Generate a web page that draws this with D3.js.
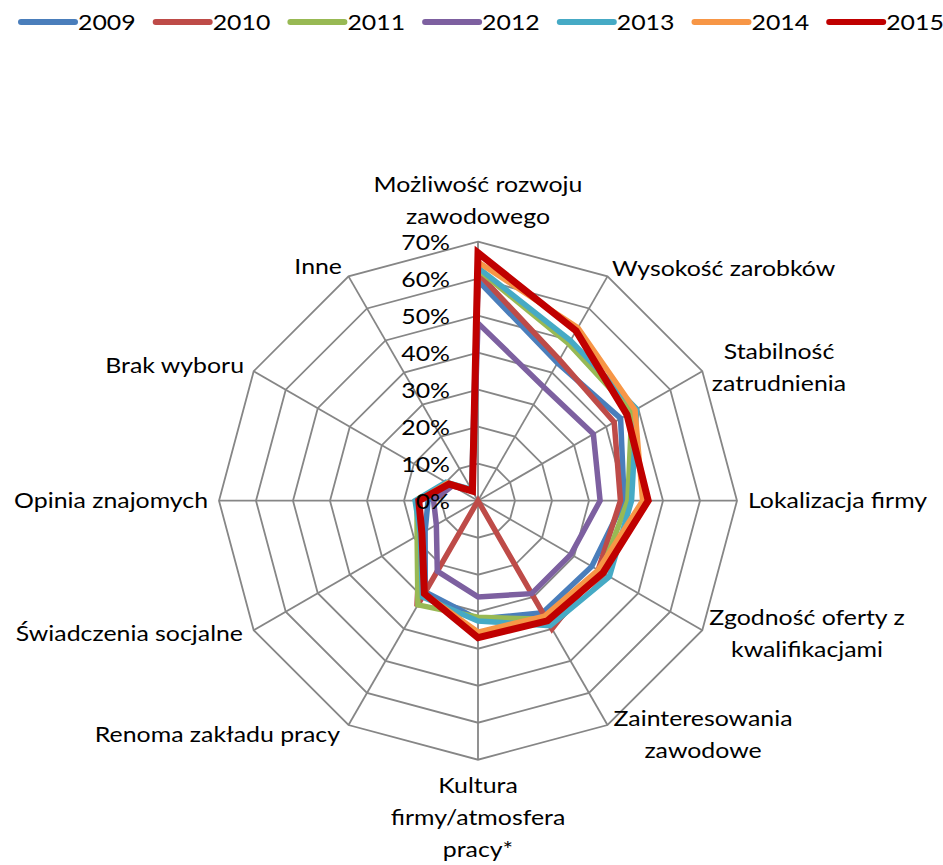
<!DOCTYPE html>
<html>
<head>
<meta charset="utf-8">
<script src="https://cdn.jsdelivr.net/npm/d3@7"></script>
<style>
  html, body { margin: 0; padding: 0; background: #fff; }
  svg { display: block; }
  text { font-family: Lato, "Open Sans", sans-serif; fill: #000; }
</style>
</head>
<body>
<svg id="chart" width="943" height="865"></svg>
<script>
// ---------------- data ----------------
const categories = [
  "Możliwość rozwoju zawodowego",
  "Wysokość zarobków",
  "Stabilność zatrudnienia",
  "Lokalizacja firmy",
  "Zgodność oferty z kwalifikacjami",
  "Zainteresowania zawodowe",
  "Kultura firmy/atmosfera pracy*",
  "Renoma zakładu pracy",
  "Świadczenia socjalne",
  "Opinia znajomych",
  "Brak wyboru",
  "Inne"
];
const years = ["2009", "2010", "2011", "2012", "2013", "2014", "2015"];
const s2009 = [59.5, 43, 44.5, 39.5, 35.5, 35, 32, 28.5, 16.5, 13.5, 9, 3];
const s2010 = [61.5, 44, 42.5, 38.5, 37.5, 40, 0, 33, 18, 16, 9, 3];
const s2011 = [62.5, 49, 48, 40.5, 38.5, 37, 31.5, 32.5, 19, 16.5, 9.5, 3];
const s2012 = [48, 35.5, 36, 33, 29, 29, 26, 22, 13, 12, 8, 3];
const s2013 = [63, 50, 49.5, 41.5, 41, 39, 32.5, 30, 18, 17, 10, 3.5];
const s2014 = [64.5, 54, 49, 44.5, 37.5, 36, 35.5, 29, 17.5, 16, 9.5, 3];
const s2015 = [67, 53, 46.5, 46, 39, 37.5, 37, 29, 17.5, 16, 9, 3];
const seriesValues = [s2009, s2010, s2011, s2012, s2013, s2014, s2015];
const tickValues = [0, 10, 20, 30, 40, 50, 60, 70];
const tickLabels = ["0%", "10%", "20%", "30%", "40%", "50%", "60%", "70%"];

// ---------------- styles / layout ----------------
const colors = ["#4A7EBB", "#BE4B48", "#98B954", "#7D60A0", "#46AAC5", "#F79646", "#C00000"];
const widths = [5.5, 5.5, 5.5, 5.5, 5.5, 5.5, 7];
const cx = 478, cy = 500.7, R = 259;
const FONT = 21;

// label lines and anchor positions (layout only)
const labelLayout = [
  { lines: ["Możliwość rozwoju", "zawodowego"], x: 478, y: 192, anchor: "middle" },
  { lines: ["Wysokość zarobków"], x: 612, y: 276, anchor: "start" },
  { lines: ["Stabilność", "zatrudnienia"], x: 779, y: 359, anchor: "middle" },
  { lines: ["Lokalizacja firmy"], x: 748, y: 508, anchor: "start" },
  { lines: ["Zgodność oferty z", "kwalifikacjami"], x: 807, y: 625, anchor: "middle" },
  { lines: ["Zainteresowania", "zawodowe"], x: 703, y: 726, anchor: "middle" },
  { lines: ["Kultura", "firmy/atmosfera", "pracy*"], x: 478, y: 793, anchor: "middle" },
  { lines: ["Renoma zakładu pracy"], x: 340, y: 742, anchor: "end" },
  { lines: ["Świadczenia socjalne"], x: 243, y: 641, anchor: "end" },
  { lines: ["Opinia znajomych"], x: 208, y: 508, anchor: "end" },
  { lines: ["Brak wyboru"], x: 244, y: 373, anchor: "end" },
  { lines: ["Inne"], x: 342, y: 274, anchor: "end" }
];
const lineGap = 32;

// ---------------- drawing ----------------
const svg = d3.select("#chart");
const r = d3.scaleLinear().domain([0, 70]).range([0, R]);
const angle = d3.scaleLinear().domain([0, categories.length]).range([0, 2 * Math.PI]);

const g = svg.append("g").attr("transform", `translate(${cx},${cy})`);

// horizontal text stretch measured at runtime so widths match the reference
const probe = svg.append("text").attr("font-size", FONT).text("Opinia znajomych");
const SX = 194 / probe.node().getComputedTextLength();
probe.remove();

function addText(parent, str, x, y, anchor, size) {
  return parent.append("text")
    .attr("transform", `translate(${x},${y}) scale(${SX},1)`)
    .attr("text-anchor", anchor)
    .attr("font-size", size || FONT)
    .text(str);
}

// grid rings
const ringLine = d3.lineRadial()
  .angle((d, i) => angle(i))
  .radius(d => r(d))
  .curve(d3.curveLinearClosed);
const gridColor = "#868686";
tickValues.filter(v => v > 0).forEach(v => {
  g.append("path")
    .attr("d", ringLine(categories.map(() => v)))
    .attr("fill", "none")
    .attr("stroke", gridColor)
    .attr("stroke-width", 1.8);
});
// spokes
categories.forEach((c, i) => {
  const a = angle(i);
  g.append("line")
    .attr("x1", 0).attr("y1", 0)
    .attr("x2", r(70) * Math.sin(a))
    .attr("y2", -r(70) * Math.cos(a))
    .attr("stroke", gridColor)
    .attr("stroke-width", 1.8);
});

// series
const seriesLine = d3.lineRadial()
  .angle((d, i) => angle(i))
  .radius(d => r(d))
  .curve(d3.curveLinearClosed);
seriesValues.forEach((vals, k) => {
  g.append("path")
    .attr("d", seriesLine(vals))
    .attr("fill", "none")
    .attr("stroke", colors[k])
    .attr("stroke-width", widths[k])
    .attr("stroke-linejoin", "miter")
    .attr("stroke-miterlimit", 4);
});

// tick labels
tickValues.forEach((v, i) => {
  addText(svg, tickLabels[i], 450, cy - r(v) + 8, "end");
});

// category labels
labelLayout.forEach(l => {
  l.lines.forEach((ln, j) => addText(svg, ln, l.x, l.y + j * lineGap, l.anchor));
});

// legend
const legend = svg.append("g");
years.forEach((y, k) => {
  const x0 = 21 + k * 134.7;
  legend.append("line")
    .attr("x1", x0).attr("x2", x0 + 54)
    .attr("y1", 22).attr("y2", 22)
    .attr("stroke", colors[k])
    .attr("stroke-width", 6)
    .attr("stroke-linecap", "round");
  addText(legend, y, x0 + 57, 30, "start");
});
</script>
</body>
</html>
